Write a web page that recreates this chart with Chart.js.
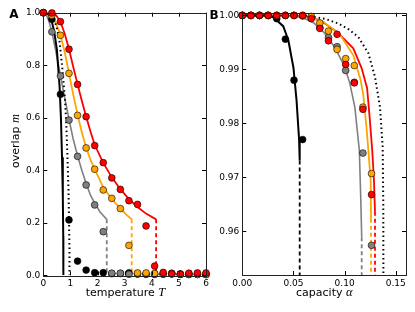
<!DOCTYPE html>
<html>
<head>
<meta charset="utf-8">
<script src="https://cdn.jsdelivr.net/npm/chart.js@4.4.0/dist/chart.umd.min.js"></script>
<style>
  html, body { margin: 0; background: #fff; }
  #wrap { position: relative; width: 415px; height: 312px; }
  canvas { position: absolute; left: 0; top: 0; }
</style>
</head>
<body>
<div id="wrap">
  <canvas id="chartA" width="415" height="312"></canvas>
  <canvas id="chartB" width="415" height="312"></canvas>
</div>
<script>
// ---- Panel A: overlap vs temperature ----
const tempPts = [0, 0.316, 0.632, 0.947, 1.263, 1.579, 1.895, 2.211, 2.526, 2.842, 3.158, 3.474, 3.789, 4.105, 4.421, 4.737, 5.053, 5.368, 5.684, 6.0];
const blackA  = [1.0, 0.975, 0.689, 0.211, 0.054, 0.020, 0.010, 0.010, 0.006, 0.007, 0.009, 0.005, 0.004, 0.004, 0.005, 0.006, 0.004, 0.003, 0.004, 0.003];
const grayA   = [1.0, 0.927, 0.759, 0.591, 0.453, 0.344, 0.268, 0.166, 0.008, 0.008, 0.004, 0.006, 0.005, 0.004, 0.004, 0.008, 0.005, 0.004, 0.004, 0.003];
const orangeA = [1.0, 0.990, 0.914, 0.769, 0.609, 0.485, 0.404, 0.325, 0.293, 0.254, 0.114, 0.009, 0.009, 0.007, 0.005, 0.006, 0.004, 0.004, 0.003, 0.004];
const redA    = [1.0, 0.999, 0.966, 0.861, 0.727, 0.604, 0.494, 0.429, 0.371, 0.327, 0.284, 0.270, 0.188, 0.035, 0.011, 0.005, 0.004, 0.008, 0.009, 0.009];

// theory curves
const blackCurveT = [0, 0.1, 0.2, 0.3, 0.4, 0.5, 0.6, 0.65, 0.69, 0.72, 0.735, 0.74];
const blackCurveM = [1.0, 0.999, 0.993, 0.972, 0.93, 0.86, 0.72, 0.6, 0.45, 0.3, 0.15, 0.0];
const dotCurveT = [0, 0.2, 0.35, 0.49, 0.6, 0.7, 0.8, 0.85, 0.89, 0.93, 0.95, 0.965, 0.965];
const dotCurveM = [1.0, 0.998, 0.985, 0.947, 0.89, 0.79, 0.67, 0.57, 0.45, 0.32, 0.2, 0.1, 0.0];
const grayCurveT = [0, 0.1, 0.2, 0.316, 0.45, 0.632, 0.8, 0.947, 1.1, 1.263, 1.42, 1.579, 1.74, 1.895, 2.1, 2.34];
const grayCurveM = [1.0, 0.995, 0.97, 0.927, 0.86, 0.76, 0.67, 0.595, 0.52, 0.455, 0.4, 0.35, 0.305, 0.275, 0.24, 0.213];
const orangeCurveT = [0, 0.15, 0.316, 0.47, 0.632, 0.79, 0.947, 1.1, 1.263, 1.42, 1.579, 1.74, 1.895, 2.211, 2.526, 2.842, 3.05, 3.26];
const orangeCurveM = [1.0, 0.998, 0.99, 0.96, 0.915, 0.85, 0.77, 0.69, 0.612, 0.545, 0.487, 0.44, 0.404, 0.335, 0.29, 0.255, 0.232, 0.213];
const redCurveT = [0, 0.25, 0.316, 0.47, 0.632, 0.79, 0.947, 1.1, 1.263, 1.42, 1.579, 1.74, 1.895, 2.211, 2.526, 2.842, 3.158, 3.474, 3.789, 4.16];
const redCurveM = [1.0, 1.0, 0.998, 0.99, 0.966, 0.92, 0.862, 0.795, 0.728, 0.665, 0.605, 0.548, 0.497, 0.428, 0.373, 0.328, 0.29, 0.26, 0.235, 0.213];
const dropT = { gray: 2.34, orange: 3.26, red: 4.16 };
const dropFromA = 0.213;

const tempTicks = [0, 1, 2, 3, 4, 5, 6];
const overlapTicks = [0.0, 0.2, 0.4, 0.6, 0.8, 1.0];

// ---- Panel B: overlap vs capacity ----
const alphaPts = [0, 0.00842, 0.01684, 0.02526, 0.03368, 0.04211, 0.05053, 0.05895, 0.06737, 0.07579, 0.08421, 0.09263, 0.10105, 0.10947, 0.11789, 0.12632];
const blackB  = [1.0, 1.0, 1.0, 1.0, 0.9994, 0.9956, 0.9880, 0.9770];
const grayB   = [1.0, 1.0, 1.0, 1.0, 1.0, 1.0, 1.0, 0.9999, 0.9997, 0.9977, 0.9959, 0.9942, 0.9898, 0.9876, 0.9745, 0.9574];
const orangeB = [1.0, 1.0, 1.0, 1.0, 1.0, 1.0, 1.0, 1.0, 0.9998, 0.9986, 0.9971, 0.9937, 0.9920, 0.9907, 0.9830, 0.9707];
const redB    = [1.0, 1.0, 1.0, 1.0, 1.0, 1.0, 1.0, 1.0, 0.9994, 0.9976, 0.9953, 0.9965, 0.9909, 0.9875, 0.9826, 0.9668];

const blackCurveA = [0, 0.02, 0.03, 0.04, 0.045, 0.05, 0.053, 0.0555, 0.0561];
const blackCurveB = [1.0, 1.0, 0.9997, 0.998, 0.9954, 0.9903, 0.9843, 0.977, 0.9731];
const dotCurveA = [0, 0.06, 0.071, 0.082, 0.0938, 0.104, 0.1134, 0.1232, 0.1297, 0.1346, 0.1372, 0.1378, 0.1379];
const dotCurveB = [1.0, 1.0, 0.9997, 0.9993, 0.9985, 0.9974, 0.996, 0.993, 0.9886, 0.983, 0.9756, 0.965, 0.9519];
const grayCurveA = [0, 0.05, 0.06, 0.07, 0.08, 0.09, 0.1, 0.105, 0.11, 0.1144, 0.1158, 0.1167];
const grayCurveB = [1.0, 0.99995, 0.9995, 0.9986, 0.9968, 0.9942, 0.9905, 0.9875, 0.983, 0.975, 0.966, 0.9589];
const orangeCurveA = [0, 0.06, 0.0792, 0.0955, 0.1085, 0.1157, 0.1183, 0.1215, 0.1232, 0.1255, 0.1258];
const orangeCurveB = [1.0, 0.99985, 0.9988, 0.9964, 0.9926, 0.988, 0.9852, 0.979, 0.975, 0.9694, 0.9623];
const redCurveA = [0, 0.06, 0.076, 0.0923, 0.1085, 0.1167, 0.122, 0.1245, 0.127, 0.1287, 0.1297];
const redCurveB = [1.0, 0.9999, 0.9991, 0.997, 0.9939, 0.9902, 0.9865, 0.981, 0.975, 0.9694, 0.9636];
const dropAlpha = { black: 0.0561, gray: 0.1167, orange: 0.1258, red: 0.1297 };
const dropFromB = { black: 0.9731, gray: 0.9589, orange: 0.9623, red: 0.9636 };

const alphaTicks = [0.00, 0.05, 0.10, 0.15];
const overlapTicksB = [0.96, 0.97, 0.98, 0.99, 1.00];

const ORANGE = '#ffa500', RED = '#ff0000', GRAY = '#808080', BLACK = '#000000';

function pts(xs, ys) {
    return ys.map((y, i) => ({ x: xs[i], y: y }));
}

function lineDs(xs, ys, color, width, dash) {
    return {
        data: pts(xs, ys), showLine: true, borderColor: color, borderWidth: width,
        borderDash: dash || [], pointRadius: 0, fill: false, tension: 0, order: 10
    };
}

function dotDs(xs, ys, color, order) {
    return {
        data: pts(xs, ys), showLine: false, backgroundColor: color, borderColor: '#000',
        borderWidth: 0.6, pointRadius: 3.4, order: order, clip: false
    };
}

// frame, inward ticks, axis titles and panel letter
const frameTicks = {
    id: 'frameTicks',
    afterDatasetsDraw(chart, args, opts) {
        const { ctx, chartArea: a, scales } = chart;
        ctx.save();
        ctx.strokeStyle = '#000';
        ctx.lineWidth = 1;
        ctx.beginPath();
        scales.x.ticks.forEach(t => {
            const px = Math.round(scales.x.getPixelForValue(t.value)) + 0.5;
            ctx.moveTo(px, a.bottom); ctx.lineTo(px, a.bottom - 4);
            ctx.moveTo(px, a.top); ctx.lineTo(px, a.top + 4);
        });
        scales.y.ticks.forEach(t => {
            const py = Math.round(scales.y.getPixelForValue(t.value)) + 0.5;
            ctx.moveTo(a.left, py); ctx.lineTo(a.left + 4, py);
            ctx.moveTo(a.right, py); ctx.lineTo(a.right - 4, py);
        });
        ctx.stroke();
        ctx.strokeStyle = '#222';
        ctx.strokeRect(Math.round(a.left) + 0.5, Math.round(a.top) + 0.5,
                       Math.round(a.right - a.left), Math.round(a.bottom - a.top));

        ctx.fillStyle = '#000';
        ctx.textBaseline = 'middle';
        const drawParts = (parts, cx, cy) => {
            let total = 0;
            parts.forEach(p => { ctx.font = p[1]; total += ctx.measureText(p[0]).width; });
            let x = cx - total / 2;
            ctx.textAlign = 'left';
            parts.forEach(p => { ctx.font = p[1]; ctx.fillText(p[0], x, cy); x += ctx.measureText(p[0]).width; });
        };
        if (opts.xTitle) drawParts(opts.xTitle, opts.xTitlePos[0], opts.xTitlePos[1]);
        if (opts.yTitle) {
            ctx.save();
            ctx.translate(opts.yTitlePos[0], opts.yTitlePos[1]);
            ctx.rotate(-Math.PI / 2);
            drawParts(opts.yTitle, 0, 0);
            ctx.restore();
        }
        ctx.font = 'bold 12px "DejaVu Sans"';
        ctx.textAlign = 'center';
        ctx.fillText(opts.letter, opts.letterPos[0], opts.letterPos[1]);
        ctx.restore();
    }
};

const SANS = '11px "DejaVu Sans"';
const ITAL = 'italic 12.5px "Liberation Serif"';

function axis(min, max, ticks, fmt, size, padding, isX) {
    return {
        type: 'linear', min: min, max: max,
        grid: { display: false, drawTicks: false },
        border: { display: false },
        ticks: {
            padding: padding, color: '#000', maxRotation: 0, autoSkip: false,
            font: { family: 'DejaVu Sans', size: 9 },
            callback: v => fmt(v)
        },
        afterBuildTicks: s => { s.ticks = ticks.map(v => ({ value: v })); },
        afterFit: s => { if (isX) s.height = size; else s.width = size; }
    };
}

new Chart(document.getElementById('chartA'), {
    type: 'scatter',
    data: {
        datasets: [
            lineDs(blackCurveT, blackCurveM, BLACK, 2),
            lineDs(dotCurveT, dotCurveM, BLACK, 2, [1.5, 3]),
            lineDs(grayCurveT, grayCurveM, GRAY, 1.6),
            lineDs(orangeCurveT, orangeCurveM, ORANGE, 1.8),
            lineDs(redCurveT, redCurveM, RED, 1.8),
            lineDs([dropT.gray, dropT.gray], [dropFromA, 0], GRAY, 1.8, [4, 3]),
            lineDs([dropT.orange, dropT.orange], [dropFromA, 0], ORANGE, 1.8, [4, 3]),
            lineDs([dropT.red, dropT.red], [dropFromA, 0], RED, 1.8, [4, 3]),
            dotDs(tempPts, blackA, BLACK, 4),
            dotDs(tempPts, grayA, GRAY, 3),
            dotDs(tempPts, orangeA, ORANGE, 2),
            dotDs(tempPts, redA, RED, 1)
        ]
    },
    options: {
        responsive: false,
        animation: false,
        layout: { padding: { left: 0, right: 209, top: 12.7, bottom: 0 } },
        plugins: {
            legend: { display: false },
            tooltip: { enabled: false },
            frameTicks: {
                xTitle: [['temperature ', SANS], ['T', ITAL]], xTitlePos: [125.5, 293],
                yTitle: [['overlap ', SANS], ['m', ITAL]], yTitlePos: [16, 141],
                letter: 'A', letterPos: [14, 15]
            }
        },
        scales: {
            x: axis(0, 6, tempTicks, v => String(v), 36.7, 3, true),
            y: axis(0, 1, overlapTicks, v => v.toFixed(1), 43.3, 3, false)
        }
    },
    plugins: [frameTicks]
});

new Chart(document.getElementById('chartB'), {
    type: 'scatter',
    data: {
        datasets: [
            lineDs(blackCurveA, blackCurveB, BLACK, 2),
            lineDs(dotCurveA, dotCurveB, BLACK, 2, [1.5, 3]),
            lineDs(grayCurveA, grayCurveB, GRAY, 1.6),
            lineDs(orangeCurveA, orangeCurveB, ORANGE, 1.8),
            lineDs(redCurveA, redCurveB, RED, 1.8),
            lineDs([dropAlpha.black, dropAlpha.black], [dropFromB.black, 0.9519], BLACK, 1.8, [4, 3]),
            lineDs([dropAlpha.gray, dropAlpha.gray], [dropFromB.gray, 0.9519], GRAY, 1.8, [4, 3]),
            lineDs([dropAlpha.orange, dropAlpha.orange], [dropFromB.orange, 0.9519], ORANGE, 1.8, [4, 3]),
            lineDs([dropAlpha.red, dropAlpha.red], [dropFromB.red, 0.9519], RED, 1.8, [4, 3]),
            dotDs(alphaPts, blackB, BLACK, 4),
            dotDs(alphaPts, grayB, GRAY, 3),
            dotDs(alphaPts, orangeB, ORANGE, 2),
            dotDs(alphaPts, redB, RED, 1)
        ]
    },
    options: {
        responsive: false,
        animation: false,
        layout: { padding: { left: 202.3, right: 9, top: 12.7, bottom: 0 } },
        plugins: {
            legend: { display: false },
            tooltip: { enabled: false },
            frameTicks: {
                xTitle: [['capacity ', SANS], ['α', ITAL]], xTitlePos: [324.3, 293],
                letter: 'B', letterPos: [214, 15.5]
            }
        },
        scales: {
            x: axis(0, 0.16, alphaTicks, v => v.toFixed(2), 37, 3, true),
            y: axis(0.9519, 1.0005, overlapTicksB, v => v.toFixed(2), 40, 3, false)
        }
    },
    plugins: [frameTicks]
});
</script>
</body>
</html>
